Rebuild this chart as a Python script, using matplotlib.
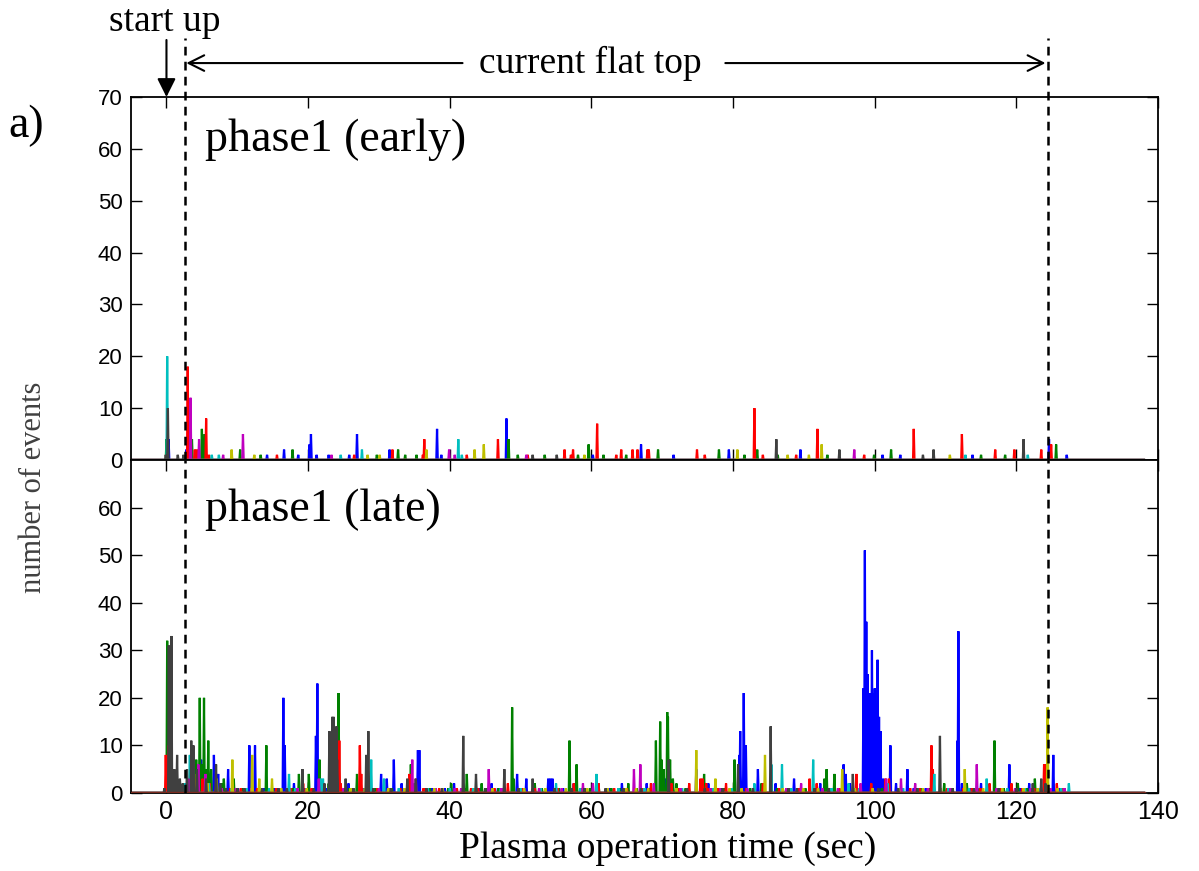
import matplotlib
matplotlib.use("Agg")
import matplotlib.pyplot as plt

# MATLAB-style line colours
COLORS = {
    "b": (0, 0, 1), "g": (0, 0.5, 0), "r": (1, 0, 0), "c": (0, 0.75, 0.75),
    "m": (0.75, 0, 0.75), "y": (0.75, 0.75, 0), "k": (0.25, 0.25, 0.25),
}

# ---- phase1 (early): event time (s) / number of events ----
early_b_t = [0.3, 2.8, 14.2, 16.6, 18.6, 20.2, 20.4, 21.2, 22.9, 25.8, 26.9, 31.5, 38.2, 38.8, 48.0,
             60.2, 67.0, 71.6, 79.4, 89.5, 101.1, 103.6, 113.8, 124.6, 127.1]
early_b_n = [4, 2, 1, 2, 1, 3, 5, 1, 1, 1, 5, 2, 6, 1, 8,
             1, 3, 1, 2, 2, 1, 1, 1, 4, 1]
early_g_t = [0.0, 3.1, 3.6, 5.0, 5.4, 10.4, 13.3, 17.8, 29.7, 32.7, 33.7, 35.3, 48.3, 49.6, 53.4,
             58.1, 59.6, 61.7, 64.9, 69.4, 78.0, 81.6, 83.4, 86.3, 93.3, 99.9, 102.3, 115.0, 118.4, 125.6]
early_g_n = [4, 8, 4, 6, 5, 2, 1, 2, 1, 2, 1, 1, 4, 1, 1,
             1, 3, 1, 1, 2, 2, 1, 2, 1, 1, 1, 2, 1, 1, 3]
early_r_t = [3.0, 3.3, 4.0, 4.3, 5.6, 6.0, 15.6, 26.5, 31.9, 36.2, 36.4, 42.4, 46.8, 51.0, 56.2,
             57.1, 57.4, 60.8, 63.5, 64.2, 65.8, 66.5, 67.9, 68.1, 74.9, 76.0, 83.0, 84.2, 88.9, 91.9,
             98.5, 105.5, 112.3, 117.0, 119.7, 123.5, 124.9]
early_r_n = [18, 3, 2, 2, 8, 1, 1, 1, 2, 1, 4, 1, 4, 1, 2,
             1, 2, 7, 1, 2, 2, 2, 2, 2, 2, 1, 10, 1, 1, 6,
             1, 6, 5, 2, 2, 2, 3]
early_c_t = [0.1, 6.4, 7.4, 24.6, 27.6, 41.2, 41.7, 112.8, 121.6]
early_c_n = [20, 1, 1, 1, 2, 4, 1, 1, 1]
early_m_t = [3.4, 4.6, 8.0, 10.8, 23.3, 39.9, 40.7, 50.8, 97.1]
early_m_n = [12, 4, 1, 5, 1, 2, 1, 1, 2]
early_y_t = [9.2, 12.4, 28.4, 30.1, 36.7, 43.5, 44.8, 59.0, 80.6, 87.7, 90.7, 92.5, 110.6]
early_y_n = [2, 1, 1, 1, 2, 2, 3, 1, 2, 1, 1, 3, 1]
early_k_t = [-0.1, 0.2, 1.6, 2.4, 51.7, 55.1, 86.1, 95.0, 106.8, 108.3, 121.0]
early_k_n = [1, 10, 1, 1, 1, 1, 4, 2, 1, 2, 4]

# ---- phase1 (late) ----
late_b_t = [0.2, 3.0, 4.9, 6.7, 7.3, 8.7, 10.1, 11.7, 12.5, 13.8, 15.2, 16.5, 16.7, 18.0, 19.6,
            21.1, 21.3, 22.5, 25.7, 27.8, 30.3, 31.1, 32.1, 33.2, 35.5, 35.7, 37.5, 39.3, 40.6, 44.2,
            45.9, 46.8, 49.5, 50.8, 53.9, 54.2, 54.5, 56.0, 57.5, 59.1, 62.5, 64.3, 67.8, 70.5, 72.3,
            74.8, 76.5, 78.3, 80.9, 81.0, 81.5, 81.8, 83.5, 86.0, 88.6, 90.0, 92.3, 95.6, 95.9, 96.5,
            98.4, 98.6, 98.8, 99.0, 99.2, 99.4, 99.6, 99.8, 100.0, 100.2, 100.4, 100.6, 100.8, 101.2,
            102.2, 103.0, 104.6, 105.5, 107.2, 111.7, 111.8, 112.3, 113.5, 115.0, 117.5, 119.0, 120.5,
            121.8, 123.0, 125.2, 126.0]
late_b_n = [2, 1, 7, 8, 4, 5, 1, 10, 10, 1, 1, 20, 10, 2, 1,
            12, 23, 1, 2, 1, 4, 3, 7, 2, 9, 9, 1, 1, 2, 1,
            2, 1, 4, 3, 3, 3, 3, 1, 2, 1, 1, 2, 2, 3, 1,
            5, 2, 1, 8, 13, 21, 10, 5, 2, 3, 1, 2, 6, 4, 2,
            22, 51, 36, 25, 20, 21, 30, 21, 22, 17, 28, 16, 13, 3,
            10, 2, 5, 1, 1, 11, 34, 2, 1, 2, 1, 6, 1,
            2, 1, 8, 1]
late_g_t = [0.1, 0.4, 0.9, 1.8, 3.8, 4.2, 4.7, 5.0, 5.3, 5.6, 5.9, 6.3, 7.8, 8.1, 9.5,
            10.8, 14.1, 15.0, 17.8, 18.7, 20.1, 21.6, 22.9, 24.3, 25.8, 26.9, 29.5, 31.8, 33.0, 34.5,
            35.0, 37.2, 39.8, 40.2, 42.1, 42.4, 44.5, 45.2, 46.9, 48.8, 49.0, 50.2, 52.0, 53.0, 55.4,
            56.9, 57.9, 59.8, 61.0, 62.8, 64.0, 65.2, 66.4, 68.2, 69.1, 69.7, 69.9, 70.2, 70.7, 70.8,
            71.1, 71.5, 72.0, 73.3, 75.9, 77.0, 78.8, 80.2, 82.4, 84.0, 86.2, 87.5, 89.2, 90.2, 92.9,
            93.2, 94.3, 97.0, 99.5, 101.0, 103.8, 106.5, 107.6, 109.8, 113.0, 114.8, 116.9, 118.2,
            120.2, 121.5, 122.6, 124.0]
late_g_n = [32, 14, 5, 2, 4, 7, 20, 6, 20, 5, 11, 5, 2, 3, 3,
            1, 10, 1, 1, 4, 4, 7, 2, 21, 1, 4, 1, 1, 1, 6,
            2, 1, 1, 2, 1, 4, 2, 1, 1, 18, 3, 1, 2, 1, 1,
            11, 6, 1, 2, 1, 1, 2, 1, 1, 11, 15, 7, 5, 17, 16,
            7, 3, 2, 1, 4, 1, 1, 7, 1, 2, 1, 1, 1, 1, 3,
            5, 4, 1, 1, 1, 1, 1, 1, 2, 2, 1, 11, 1,
            2, 1, 3, 2]
late_r_t = [-0.1, 0.3, 0.6, 1.0, 2.0, 3.4, 3.9, 4.4, 5.1, 5.7, 6.1, 7.0, 9.0, 10.5, 12.8,
            15.5, 17.5, 19.3, 20.5, 22.0, 24.4, 24.6, 27.3, 27.5, 29.8, 31.5, 33.0, 34.3, 36.3, 38.5,
            41.0, 43.0, 44.0, 46.3, 48.2, 50.3, 52.0, 55.2, 57.5, 58.5, 61.0, 63.2, 65.0, 67.2, 68.4,
            71.3, 72.3, 73.8, 75.4, 75.7, 76.2, 76.5, 77.8, 79.0, 81.9, 83.0, 84.2, 86.5, 88.0, 89.3,
            90.8, 91.8, 93.8, 95.0, 97.4, 99.5, 101.5, 102.0, 105.0, 106.3, 108.0, 108.2, 110.2, 112.5,
            113.7, 114.9, 116.2, 117.8, 119.3, 120.8, 122.5, 123.9, 124.2, 125.7, 126.5]
late_r_n = [8, 10, 3, 2, 1, 2, 3, 2, 3, 1, 2, 1, 1, 1, 1,
            1, 1, 2, 1, 1, 11, 2, 10, 4, 1, 1, 1, 4, 1, 1,
            1, 1, 1, 1, 2, 1, 1, 1, 2, 1, 2, 1, 1, 1, 2,
            2, 1, 2, 3, 3, 2, 1, 1, 2, 1, 1, 2, 1, 1, 1,
            3, 2, 1, 1, 4, 2, 3, 3, 1, 1, 10, 5, 1, 1,
            1, 1, 2, 1, 2, 1, 1, 6, 6, 2, 1]
late_c_t = [0.5, 2.6, 3.3, 3.7, 6.0, 9.2, 11.3, 14.5, 17.3, 18.2, 21.8, 22.1, 26.2, 28.9, 30.7,
            32.8, 36.9, 40.0, 43.3, 47.2, 50.0, 52.8, 55.0, 58.4, 60.7, 63.8, 67.5, 72.8, 77.2, 79.8,
            83.0, 85.4, 86.9, 88.2, 91.3, 93.9, 96.3, 97.8, 101.8, 104.0, 106.0, 108.4, 110.4, 113.3,
            115.8, 118.7, 121.2, 123.4, 126.3, 127.4]
late_c_n = [3, 2, 8, 3, 2, 1, 1, 1, 4, 1, 3, 3, 1, 7, 3,
            1, 1, 1, 1, 1, 1, 1, 2, 1, 4, 1, 1, 1, 1, 1,
            2, 6, 6, 1, 7, 1, 2, 1, 2, 1, 1, 4, 1, 1,
            3, 1, 1, 1, 1, 2]
late_m_t = [0.8, 3.1, 4.5, 5.5, 7.8, 9.8, 12.0, 16.0, 18.5, 21.5, 25.0, 30.0, 34.7, 35.2, 38.0,
            40.7, 41.6, 45.5, 47.3, 52.6, 55.8, 58.8, 60.2, 64.6, 66.0, 66.9, 68.8, 72.6, 76.8, 78.2,
            82.0, 87.5, 89.6, 92.6, 94.8, 98.0, 101.6, 103.7, 105.7, 107.5, 110.7, 114.4, 117.2, 119.8,
            122.0, 124.8, 126.8]
late_m_n = [2, 3, 6, 4, 1, 1, 1, 1, 1, 3, 1, 1, 7, 3, 1,
            1, 1, 5, 1, 1, 1, 2, 2, 1, 5, 6, 2, 1, 1, 1,
            1, 1, 2, 1, 1, 2, 3, 3, 2, 1, 1, 6, 1, 1,
            1, 1, 1]
late_y_t = [1.2, 3.9, 5.8, 7.1, 9.3, 12.1, 13.1, 14.9, 16.2, 19.8, 23.6, 26.0, 28.0, 31.3, 33.6,
            37.8, 39.0, 43.6, 46.0, 50.5, 53.5, 56.4, 59.4, 62.3, 64.9, 66.3, 68.0, 72.0, 74.8, 77.5,
            79.5, 81.2, 84.5, 87.0, 89.9, 92.0, 95.4, 97.2, 99.7, 103.4, 106.8, 109.3, 112.7, 115.3,
            118.0, 121.0, 123.0, 124.4, 125.8]
late_y_n = [1, 4, 2, 3, 7, 8, 3, 3, 1, 1, 1, 1, 1, 1, 1,
            1, 1, 1, 1, 1, 1, 1, 1, 1, 1, 1, 1, 1, 9, 3,
            1, 1, 8, 1, 1, 1, 5, 1, 1, 1, 1, 1, 5, 1,
            1, 1, 1, 18, 1]
late_k_t = [-0.3, 0.33, 0.56, 0.7, 1.1, 1.5, 1.9, 2.3, 2.9, 3.5, 3.8, 4.3, 5.6, 7.0, 7.6,
            8.4, 10.0, 11.0, 13.5, 15.8, 17.0, 19.2, 20.8, 22.3, 23.0, 23.4, 23.6, 24.0, 24.1, 25.3,
            26.4, 28.2, 28.5, 29.2, 31.7, 34.0, 35.2, 36.7, 38.9, 41.9, 43.7, 45.0, 47.7, 49.7, 51.7,
            54.8, 57.2, 59.0, 62.0, 64.5, 67.0, 70.9, 73.5, 76.0, 78.5, 80.7, 82.8, 85.3, 87.8, 89.0,
            91.5, 93.5, 96.9, 100.5, 103.3, 106.0, 109.2, 111.0, 114.0, 117.5, 120.0, 122.3, 123.5, 124.1]
late_k_n = [1, 31, 15, 33, 5, 8, 3, 2, 5, 11, 10, 5, 3, 6, 2,
            1, 1, 1, 1, 1, 1, 5, 1, 2, 13, 16, 16, 14, 7, 3,
            1, 8, 13, 1, 1, 3, 3, 1, 1, 12, 4, 1, 5, 1, 3,
            1, 1, 1, 1, 1, 1, 7, 1, 1, 1, 6, 1, 14, 1, 1,
            1, 1, 4, 1, 1, 1, 12, 1, 1, 1, 1, 2, 3, 2]

early = {"b": (early_b_t, early_b_n), "g": (early_g_t, early_g_n), "r": (early_r_t, early_r_n),
         "c": (early_c_t, early_c_n), "m": (early_m_t, early_m_n), "y": (early_y_t, early_y_n),
         "k": (early_k_t, early_k_n)}
late = {"b": (late_b_t, late_b_n), "g": (late_g_t, late_g_n), "r": (late_r_t, late_r_n),
        "c": (late_c_t, late_c_n), "m": (late_m_t, late_m_n), "y": (late_y_t, late_y_n),
        "k": (late_k_t, late_k_n)}

flat_start, flat_end = 2.6, 124.4


def spikes(times, counts, w=0.1):
    # each event count drawn as a narrow spike from the zero baseline
    x, y = [-5], [0]
    for t, n in sorted(zip(times, counts)):
        x += [t - w, t, t + w]
        y += [0, n, 0]
    x.append(138)
    y.append(0)
    return x, y


def style_axes(ax, yticks):
    ax.set_xlim(-5, 140)
    ax.set_ylim(0, 70)
    ax.set_xticks(range(0, 141, 20))
    ax.set_yticks(yticks)
    ax.tick_params(direction="in", top=True, right=True, length=8, width=1.0,
                   labelsize=16, pad=6)
    for lab in ax.get_xticklabels() + ax.get_yticklabels():
        lab.set_family("Liberation Sans")
    for s in ax.spines.values():
        s.set_linewidth(1.3)


fig = plt.figure(figsize=(11.99, 8.71), dpi=100)
ax1 = fig.add_axes([0.1093, 0.4719, 0.8566, 0.4167])
ax2 = fig.add_axes([0.1093, 0.0896, 0.8566, 0.3823])

for ax, data in [(ax1, early), (ax2, late)]:
    for key in ["b", "g", "r", "c", "m", "y", "k"]:
        x, y = spikes(*data[key])
        ax.plot(x, y, color=COLORS[key], lw=1.6, solid_joinstyle="miter")

# brownish zero line of the late phase
ax2.plot([-5, 138], [0, 0], color="#7a2a1e", lw=2.4, zorder=3)

style_axes(ax1, range(0, 71, 10))
style_axes(ax2, range(0, 61, 10))
ax1.tick_params(labelbottom=False)
ax2.tick_params(axis="x", labelsize=18, pad=5)

# flat-top markers
dash = (0, (3.5, 2.5))
for xv in (flat_start, flat_end):
    ax1.plot([xv, xv], [0, 81.4], color="k", lw=1.8, ls=dash, clip_on=False, zorder=5)
    ax2.axvline(xv, color="k", lw=1.8, ls=dash, zorder=5)

serif = "Liberation Serif"
ax1.text(5.5, 61.7, "phase1 (early)", fontsize=33, family=serif, va="center")
ax2.text(5.5, 59.6, "phase1 (late)", fontsize=33, family=serif, va="center")

ax1.annotate("", xy=(0, 70), xytext=(0, 81.0), annotation_clip=False,
             arrowprops=dict(arrowstyle="-|>", mutation_scale=28, lw=1.5, color="k",
                             shrinkA=0, shrinkB=0))
ax1.text(-0.2, 84.6, "start up", fontsize=27, family=serif, ha="center", va="center",
         clip_on=False)
ax1.text(59.9, 76.55, "current flat top", fontsize=27, family=serif, ha="center",
         va="center", clip_on=False)
ax1.annotate("", xy=(2.8, 76.55), xytext=(41.8, 76.55), annotation_clip=False,
             arrowprops=dict(arrowstyle="->", mutation_scale=28, lw=1.5, color="k",
                             shrinkA=0, shrinkB=0))
ax1.annotate("", xy=(124.1, 76.55), xytext=(78.9, 76.55), annotation_clip=False,
             arrowprops=dict(arrowstyle="->", mutation_scale=28, lw=1.5, color="k",
                             shrinkA=0, shrinkB=0))

fig.text(0.007, 0.856, "a)", fontsize=33, family=serif, va="center")
fig.text(0.028, 0.44, "number of events", fontsize=22, family=serif, color="#404040",
         rotation=90, ha="center", va="center")
fig.text(0.557, 0.026, "Plasma operation time (sec)", fontsize=27, family=serif,
         ha="center", va="center")

plt.savefig("out.png", dpi=100)
plt.close()
